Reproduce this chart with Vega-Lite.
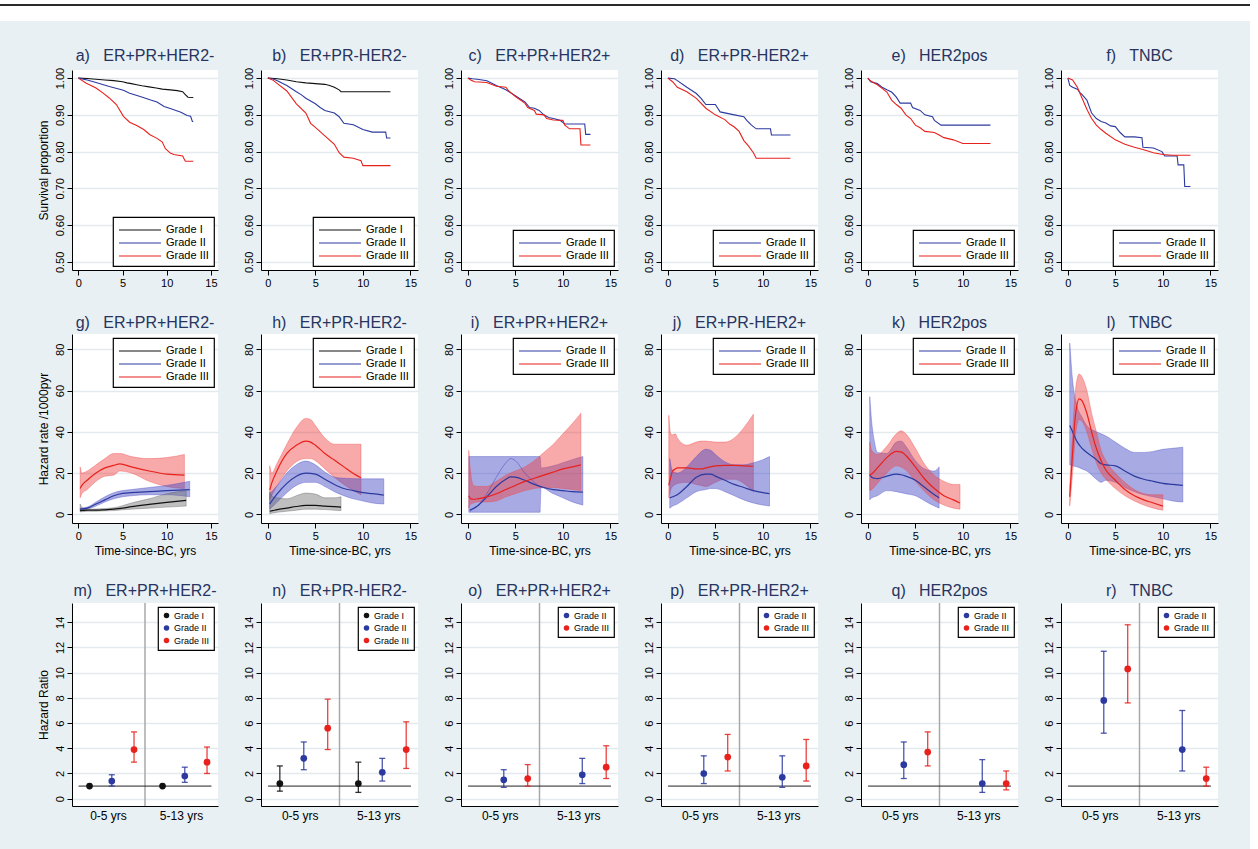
{
"$schema": "https://vega.github.io/schema/vega-lite/v6.json",
"background": "#e9f0f3",
"padding": 0,
"autosize": {"type": "pad"},
"config": {
  "font": "Liberation Sans",
  "view": {"fill": "white", "stroke": null},
  "axis": {"labelFont": "Liberation Sans", "titleFont": "Liberation Sans", "labelFontSize": 11, "titleFontSize": 12, "titleFontWeight": "normal", "tickSize": 5, "labelPadding": 2, "titlePadding": 4, "domainColor": "#000", "tickColor": "#000", "labelColor": "#000", "titleColor": "#000", "domainWidth": 1, "tickWidth": 1},
  "axisY": {"grid": true, "gridColor": "#e2eaee", "gridWidth": 1.5, "labelAngle": 270, "labelAlign": "center", "labelBaseline": "bottom"},
  "axisX": {"grid": false, "labelAngle": 0},
  "title": {"fontSize": 16, "font": "Liberation Sans", "fontWeight": "normal", "color": "#26345f", "offset": 3, "anchor": "middle"},
  "legend": {"strokeWidth": 1.2, "labelFont": "Liberation Sans", "labelColor": "#000"}
},
"datasets": {
"km": [
{"p":"a","g":"Grade I","t":0,"s":1},{"p":"a","g":"Grade I","t":1,"s":0.999},{"p":"a","g":"Grade I","t":2,"s":0.997},{"p":"a","g":"Grade I","t":3,"s":0.995},{"p":"a","g":"Grade I","t":4,"s":0.993},{"p":"a","g":"Grade I","t":5,"s":0.99},{"p":"a","g":"Grade I","t":5.5,"s":0.987},{"p":"a","g":"Grade I","t":6,"s":0.985},{"p":"a","g":"Grade I","t":6.6,"s":0.982},{"p":"a","g":"Grade I","t":7.2,"s":0.979},{"p":"a","g":"Grade I","t":8,"s":0.976},{"p":"a","g":"Grade I","t":8.8,"s":0.973},{"p":"a","g":"Grade I","t":9.5,"s":0.97},{"p":"a","g":"Grade I","t":10.4,"s":0.968},{"p":"a","g":"Grade I","t":11.2,"s":0.966},{"p":"a","g":"Grade I","t":11.8,"s":0.963},{"p":"a","g":"Grade I","t":12.1,"s":0.955},{"p":"a","g":"Grade I","t":12.4,"s":0.948},{"p":"a","g":"Grade I","t":13,"s":0.947},
{"p":"a","g":"Grade II","t":0,"s":1},{"p":"a","g":"Grade II","t":1,"s":0.995},{"p":"a","g":"Grade II","t":2,"s":0.988},{"p":"a","g":"Grade II","t":3.5,"s":0.977},{"p":"a","g":"Grade II","t":5.1,"s":0.967},{"p":"a","g":"Grade II","t":5.8,"s":0.959},{"p":"a","g":"Grade II","t":7,"s":0.95},{"p":"a","g":"Grade II","t":8.1,"s":0.941},{"p":"a","g":"Grade II","t":8.9,"s":0.935},{"p":"a","g":"Grade II","t":9.7,"s":0.923},{"p":"a","g":"Grade II","t":10.4,"s":0.917},{"p":"a","g":"Grade II","t":11.6,"s":0.907},{"p":"a","g":"Grade II","t":12.3,"s":0.898},{"p":"a","g":"Grade II","t":12.7,"s":0.896},{"p":"a","g":"Grade II","t":12.9,"s":0.882},{"p":"a","g":"Grade II","t":13,"s":0.882},
{"p":"a","g":"Grade III","t":0,"s":1},{"p":"a","g":"Grade III","t":0.9,"s":0.986},{"p":"a","g":"Grade III","t":2,"s":0.973},{"p":"a","g":"Grade III","t":2.8,"s":0.959},{"p":"a","g":"Grade III","t":3.5,"s":0.946},{"p":"a","g":"Grade III","t":4.3,"s":0.928},{"p":"a","g":"Grade III","t":5.1,"s":0.896},{"p":"a","g":"Grade III","t":5.8,"s":0.88},{"p":"a","g":"Grade III","t":6.6,"s":0.871},{"p":"a","g":"Grade III","t":7.4,"s":0.86},{"p":"a","g":"Grade III","t":8.1,"s":0.846},{"p":"a","g":"Grade III","t":8.9,"s":0.836},{"p":"a","g":"Grade III","t":9.5,"s":0.826},{"p":"a","g":"Grade III","t":9.85,"s":0.808},{"p":"a","g":"Grade III","t":10.4,"s":0.796},{"p":"a","g":"Grade III","t":10.8,"s":0.792},{"p":"a","g":"Grade III","t":11.8,"s":0.788},{"p":"a","g":"Grade III","t":12.1,"s":0.774},{"p":"a","g":"Grade III","t":13,"s":0.774},
{"p":"b","g":"Grade I","t":0,"s":1},{"p":"b","g":"Grade I","t":1,"s":0.998},{"p":"b","g":"Grade I","t":2,"s":0.995},{"p":"b","g":"Grade I","t":3,"s":0.99},{"p":"b","g":"Grade I","t":4,"s":0.987},{"p":"b","g":"Grade I","t":5,"s":0.985},{"p":"b","g":"Grade I","t":6,"s":0.983},{"p":"b","g":"Grade I","t":6.5,"s":0.98},{"p":"b","g":"Grade I","t":7,"s":0.975},{"p":"b","g":"Grade I","t":7.5,"s":0.968},{"p":"b","g":"Grade I","t":7.7,"s":0.963},{"p":"b","g":"Grade I","t":12.9,"s":0.963},
{"p":"b","g":"Grade II","t":0,"s":1},{"p":"b","g":"Grade II","t":0.5,"s":0.998},{"p":"b","g":"Grade II","t":1,"s":0.993},{"p":"b","g":"Grade II","t":2,"s":0.98},{"p":"b","g":"Grade II","t":3,"s":0.963},{"p":"b","g":"Grade II","t":3.5,"s":0.955},{"p":"b","g":"Grade II","t":4,"s":0.945},{"p":"b","g":"Grade II","t":5,"s":0.93},{"p":"b","g":"Grade II","t":5.5,"s":0.92},{"p":"b","g":"Grade II","t":6,"s":0.912},{"p":"b","g":"Grade II","t":7,"s":0.905},{"p":"b","g":"Grade II","t":7.5,"s":0.895},{"p":"b","g":"Grade II","t":8,"s":0.877},{"p":"b","g":"Grade II","t":9,"s":0.873},{"p":"b","g":"Grade II","t":10,"s":0.86},{"p":"b","g":"Grade II","t":11,"s":0.853},{"p":"b","g":"Grade II","t":12.4,"s":0.853},{"p":"b","g":"Grade II","t":12.5,"s":0.837},{"p":"b","g":"Grade II","t":12.9,"s":0.837},
{"p":"b","g":"Grade III","t":0,"s":1},{"p":"b","g":"Grade III","t":0.5,"s":0.995},{"p":"b","g":"Grade III","t":1,"s":0.985},{"p":"b","g":"Grade III","t":2,"s":0.965},{"p":"b","g":"Grade III","t":3,"s":0.93},{"p":"b","g":"Grade III","t":4,"s":0.905},{"p":"b","g":"Grade III","t":4.5,"s":0.877},{"p":"b","g":"Grade III","t":5,"s":0.866},{"p":"b","g":"Grade III","t":6,"s":0.843},{"p":"b","g":"Grade III","t":7,"s":0.82},{"p":"b","g":"Grade III","t":7.5,"s":0.797},{"p":"b","g":"Grade III","t":8,"s":0.785},{"p":"b","g":"Grade III","t":9,"s":0.782},{"p":"b","g":"Grade III","t":9.8,"s":0.775},{"p":"b","g":"Grade III","t":10,"s":0.762},{"p":"b","g":"Grade III","t":12.9,"s":0.762},
{"p":"c","g":"Grade II","t":0,"s":1},{"p":"c","g":"Grade II","t":0.5,"s":0.998},{"p":"c","g":"Grade II","t":1,"s":0.997},{"p":"c","g":"Grade II","t":2,"s":0.993},{"p":"c","g":"Grade II","t":3,"s":0.98},{"p":"c","g":"Grade II","t":4,"s":0.968},{"p":"c","g":"Grade II","t":5,"s":0.952},{"p":"c","g":"Grade II","t":6,"s":0.935},{"p":"c","g":"Grade II","t":6.5,"s":0.92},{"p":"c","g":"Grade II","t":7,"s":0.918},{"p":"c","g":"Grade II","t":7.5,"s":0.912},{"p":"c","g":"Grade II","t":8,"s":0.9},{"p":"c","g":"Grade II","t":8.5,"s":0.893},{"p":"c","g":"Grade II","t":9,"s":0.89},{"p":"c","g":"Grade II","t":9.7,"s":0.885},{"p":"c","g":"Grade II","t":10.2,"s":0.875},{"p":"c","g":"Grade II","t":12.3,"s":0.875},{"p":"c","g":"Grade II","t":12.4,"s":0.847},{"p":"c","g":"Grade II","t":12.9,"s":0.847},
{"p":"c","g":"Grade III","t":0,"s":1},{"p":"c","g":"Grade III","t":0.3,"s":0.995},{"p":"c","g":"Grade III","t":0.7,"s":0.99},{"p":"c","g":"Grade III","t":2,"s":0.988},{"p":"c","g":"Grade III","t":3,"s":0.978},{"p":"c","g":"Grade III","t":4,"s":0.975},{"p":"c","g":"Grade III","t":4.3,"s":0.965},{"p":"c","g":"Grade III","t":5,"s":0.95},{"p":"c","g":"Grade III","t":6,"s":0.932},{"p":"c","g":"Grade III","t":6.3,"s":0.92},{"p":"c","g":"Grade III","t":7,"s":0.912},{"p":"c","g":"Grade III","t":7.2,"s":0.902},{"p":"c","g":"Grade III","t":8,"s":0.9},{"p":"c","g":"Grade III","t":8.3,"s":0.89},{"p":"c","g":"Grade III","t":9,"s":0.886},{"p":"c","g":"Grade III","t":10,"s":0.885},{"p":"c","g":"Grade III","t":10.2,"s":0.872},{"p":"c","g":"Grade III","t":10.7,"s":0.862},{"p":"c","g":"Grade III","t":11.8,"s":0.862},{"p":"c","g":"Grade III","t":11.9,"s":0.818},{"p":"c","g":"Grade III","t":12.9,"s":0.818},
{"p":"d","g":"Grade II","t":0,"s":1},{"p":"d","g":"Grade II","t":0.7,"s":0.998},{"p":"d","g":"Grade II","t":1,"s":0.993},{"p":"d","g":"Grade II","t":2,"s":0.975},{"p":"d","g":"Grade II","t":3,"s":0.958},{"p":"d","g":"Grade II","t":3.5,"s":0.945},{"p":"d","g":"Grade II","t":4,"s":0.928},{"p":"d","g":"Grade II","t":5,"s":0.928},{"p":"d","g":"Grade II","t":5.2,"s":0.92},{"p":"d","g":"Grade II","t":5.5,"s":0.908},{"p":"d","g":"Grade II","t":7,"s":0.9},{"p":"d","g":"Grade II","t":8,"s":0.895},{"p":"d","g":"Grade II","t":8.3,"s":0.885},{"p":"d","g":"Grade II","t":8.8,"s":0.872},{"p":"d","g":"Grade II","t":9.3,"s":0.862},{"p":"d","g":"Grade II","t":10.8,"s":0.862},{"p":"d","g":"Grade II","t":10.9,"s":0.845},{"p":"d","g":"Grade II","t":12.9,"s":0.845},
{"p":"d","g":"Grade III","t":0,"s":1},{"p":"d","g":"Grade III","t":0.5,"s":0.99},{"p":"d","g":"Grade III","t":1,"s":0.975},{"p":"d","g":"Grade III","t":2,"s":0.963},{"p":"d","g":"Grade III","t":3,"s":0.945},{"p":"d","g":"Grade III","t":4,"s":0.918},{"p":"d","g":"Grade III","t":5,"s":0.9},{"p":"d","g":"Grade III","t":6,"s":0.887},{"p":"d","g":"Grade III","t":6.5,"s":0.875},{"p":"d","g":"Grade III","t":7,"s":0.867},{"p":"d","g":"Grade III","t":7.5,"s":0.855},{"p":"d","g":"Grade III","t":8,"s":0.83},{"p":"d","g":"Grade III","t":8.5,"s":0.815},{"p":"d","g":"Grade III","t":9,"s":0.797},{"p":"d","g":"Grade III","t":9.3,"s":0.782},{"p":"d","g":"Grade III","t":12.9,"s":0.782},
{"p":"e","g":"Grade II","t":0,"s":1},{"p":"e","g":"Grade II","t":0.3,"s":0.99},{"p":"e","g":"Grade II","t":1,"s":0.985},{"p":"e","g":"Grade II","t":1.5,"s":0.975},{"p":"e","g":"Grade II","t":2,"s":0.968},{"p":"e","g":"Grade II","t":2.5,"s":0.962},{"p":"e","g":"Grade II","t":3,"s":0.948},{"p":"e","g":"Grade II","t":3.4,"s":0.932},{"p":"e","g":"Grade II","t":4.5,"s":0.932},{"p":"e","g":"Grade II","t":4.7,"s":0.92},{"p":"e","g":"Grade II","t":5.5,"s":0.912},{"p":"e","g":"Grade II","t":6,"s":0.9},{"p":"e","g":"Grade II","t":6.8,"s":0.895},{"p":"e","g":"Grade II","t":7,"s":0.885},{"p":"e","g":"Grade II","t":7.7,"s":0.872},{"p":"e","g":"Grade II","t":12.9,"s":0.872},
{"p":"e","g":"Grade III","t":0,"s":1},{"p":"e","g":"Grade III","t":0.3,"s":0.992},{"p":"e","g":"Grade III","t":1,"s":0.982},{"p":"e","g":"Grade III","t":1.5,"s":0.972},{"p":"e","g":"Grade III","t":2,"s":0.962},{"p":"e","g":"Grade III","t":2.5,"s":0.94},{"p":"e","g":"Grade III","t":3,"s":0.928},{"p":"e","g":"Grade III","t":3.5,"s":0.918},{"p":"e","g":"Grade III","t":4,"s":0.9},{"p":"e","g":"Grade III","t":4.5,"s":0.89},{"p":"e","g":"Grade III","t":5,"s":0.872},{"p":"e","g":"Grade III","t":5.5,"s":0.865},{"p":"e","g":"Grade III","t":6,"s":0.855},{"p":"e","g":"Grade III","t":7,"s":0.852},{"p":"e","g":"Grade III","t":7.5,"s":0.845},{"p":"e","g":"Grade III","t":8,"s":0.838},{"p":"e","g":"Grade III","t":9,"s":0.832},{"p":"e","g":"Grade III","t":10,"s":0.822},{"p":"e","g":"Grade III","t":12.9,"s":0.822},
{"p":"f","g":"Grade II","t":0,"s":1},{"p":"f","g":"Grade II","t":0.2,"s":0.98},{"p":"f","g":"Grade II","t":0.5,"s":0.975},{"p":"f","g":"Grade II","t":1,"s":0.97},{"p":"f","g":"Grade II","t":1.3,"s":0.96},{"p":"f","g":"Grade II","t":1.5,"s":0.955},{"p":"f","g":"Grade II","t":2,"s":0.94},{"p":"f","g":"Grade II","t":2.5,"s":0.905},{"p":"f","g":"Grade II","t":3,"s":0.89},{"p":"f","g":"Grade II","t":3.5,"s":0.882},{"p":"f","g":"Grade II","t":4,"s":0.878},{"p":"f","g":"Grade II","t":4.5,"s":0.87},{"p":"f","g":"Grade II","t":5,"s":0.868},{"p":"f","g":"Grade II","t":5.5,"s":0.852},{"p":"f","g":"Grade II","t":6,"s":0.84},{"p":"f","g":"Grade II","t":7,"s":0.84},{"p":"f","g":"Grade II","t":7.8,"s":0.838},{"p":"f","g":"Grade II","t":7.9,"s":0.812},{"p":"f","g":"Grade II","t":9,"s":0.81},{"p":"f","g":"Grade II","t":9.9,"s":0.8},{"p":"f","g":"Grade II","t":10.2,"s":0.788},{"p":"f","g":"Grade II","t":11.5,"s":0.788},{"p":"f","g":"Grade II","t":11.6,"s":0.764},{"p":"f","g":"Grade II","t":12.2,"s":0.764},{"p":"f","g":"Grade II","t":12.3,"s":0.705},{"p":"f","g":"Grade II","t":12.9,"s":0.705},
{"p":"f","g":"Grade III","t":0,"s":1},{"p":"f","g":"Grade III","t":0.5,"s":0.995},{"p":"f","g":"Grade III","t":1,"s":0.975},{"p":"f","g":"Grade III","t":1.5,"s":0.945},{"p":"f","g":"Grade III","t":2,"s":0.915},{"p":"f","g":"Grade III","t":2.5,"s":0.89},{"p":"f","g":"Grade III","t":3,"s":0.872},{"p":"f","g":"Grade III","t":3.5,"s":0.86},{"p":"f","g":"Grade III","t":4,"s":0.85},{"p":"f","g":"Grade III","t":5,"s":0.832},{"p":"f","g":"Grade III","t":6,"s":0.82},{"p":"f","g":"Grade III","t":7,"s":0.812},{"p":"f","g":"Grade III","t":8,"s":0.805},{"p":"f","g":"Grade III","t":9,"s":0.797},{"p":"f","g":"Grade III","t":10,"s":0.792},{"p":"f","g":"Grade III","t":11,"s":0.79},{"p":"f","g":"Grade III","t":12.9,"s":0.79}
],
"hz": [
{"p":"g","g":"Grade III","t":0.2,"h":12.5,"lo":8,"hi":23},{"p":"g","g":"Grade III","t":0.4,"h":14,"lo":10,"hi":20},{"p":"g","g":"Grade III","t":1,"h":16.5,"lo":12,"hi":21},{"p":"g","g":"Grade III","t":2,"h":20,"lo":16,"hi":24},{"p":"g","g":"Grade III","t":3,"h":22.5,"lo":18.5,"hi":27},{"p":"g","g":"Grade III","t":4,"h":23.7,"lo":19,"hi":29.5},{"p":"g","g":"Grade III","t":4.7,"h":24.5,"lo":21,"hi":29.5},{"p":"g","g":"Grade III","t":6,"h":23,"lo":20,"hi":28},{"p":"g","g":"Grade III","t":8,"h":21,"lo":16,"hi":27},{"p":"g","g":"Grade III","t":10,"h":19.5,"lo":13.5,"hi":27.5},{"p":"g","g":"Grade III","t":12,"h":19,"lo":12.5,"hi":29},
{"p":"g","g":"Grade II","t":0.2,"h":2.5,"lo":2,"hi":3},{"p":"g","g":"Grade II","t":1,"h":3,"lo":2.5,"hi":3.5},{"p":"g","g":"Grade II","t":2,"h":5,"lo":4,"hi":6},{"p":"g","g":"Grade II","t":3,"h":7,"lo":6,"hi":8.5},{"p":"g","g":"Grade II","t":4,"h":9,"lo":7.5,"hi":10.5},{"p":"g","g":"Grade II","t":5,"h":10.2,"lo":8.5,"hi":11.5},{"p":"g","g":"Grade II","t":6,"h":10.5,"lo":9,"hi":12},{"p":"g","g":"Grade II","t":8,"h":11,"lo":9.5,"hi":13},{"p":"g","g":"Grade II","t":10,"h":11.5,"lo":9.5,"hi":14},{"p":"g","g":"Grade II","t":12.6,"h":12,"lo":8.5,"hi":16},
{"p":"g","g":"Grade I","t":0.2,"h":1.8,"lo":1.2,"hi":5},{"p":"g","g":"Grade I","t":0.5,"h":1.9,"lo":1.3,"hi":3},{"p":"g","g":"Grade I","t":1,"h":2,"lo":1.5,"hi":2.5},{"p":"g","g":"Grade I","t":2,"h":2,"lo":1.5,"hi":2.6},{"p":"g","g":"Grade I","t":3,"h":2.2,"lo":1.7,"hi":2.8},{"p":"g","g":"Grade I","t":4,"h":2.5,"lo":1.8,"hi":3.2},{"p":"g","g":"Grade I","t":5,"h":3,"lo":2.2,"hi":4.2},{"p":"g","g":"Grade I","t":6,"h":3.7,"lo":2.5,"hi":5.5},{"p":"g","g":"Grade I","t":8,"h":4.8,"lo":3,"hi":7.5},{"p":"g","g":"Grade I","t":10,"h":5.8,"lo":3.5,"hi":10},{"p":"g","g":"Grade I","t":12.2,"h":6.8,"lo":4,"hi":11.5},
{"p":"h","g":"Grade III","t":0.2,"h":11.8,"lo":7,"hi":23.5},{"p":"h","g":"Grade III","t":0.4,"h":15,"lo":9,"hi":20},{"p":"h","g":"Grade III","t":1,"h":21.5,"lo":14,"hi":25},{"p":"h","g":"Grade III","t":2,"h":29.5,"lo":21,"hi":34},{"p":"h","g":"Grade III","t":3,"h":33.5,"lo":25.5,"hi":42},{"p":"h","g":"Grade III","t":4,"h":35.5,"lo":27,"hi":46.5},{"p":"h","g":"Grade III","t":4.5,"h":35,"lo":27,"hi":46},{"p":"h","g":"Grade III","t":5,"h":33.5,"lo":26,"hi":43},{"p":"h","g":"Grade III","t":6,"h":29.5,"lo":22,"hi":37},{"p":"h","g":"Grade III","t":7,"h":26.3,"lo":18,"hi":34},{"p":"h","g":"Grade III","t":8,"h":23,"lo":14.5,"hi":34},{"p":"h","g":"Grade III","t":9,"h":19.8,"lo":11.5,"hi":34},{"p":"h","g":"Grade III","t":9.8,"h":17.7,"lo":9.5,"hi":34},
{"p":"h","g":"Grade II","t":0.2,"h":5,"lo":2.5,"hi":10},{"p":"h","g":"Grade II","t":1,"h":10,"lo":6,"hi":14},{"p":"h","g":"Grade II","t":2,"h":15,"lo":10.5,"hi":20},{"p":"h","g":"Grade II","t":3,"h":18.5,"lo":14,"hi":24},{"p":"h","g":"Grade II","t":4,"h":20,"lo":15.5,"hi":25.8},{"p":"h","g":"Grade II","t":5,"h":19.5,"lo":15.5,"hi":24},{"p":"h","g":"Grade II","t":6,"h":17,"lo":13.5,"hi":20.5},{"p":"h","g":"Grade II","t":7,"h":14.5,"lo":11,"hi":18},{"p":"h","g":"Grade II","t":8,"h":12.5,"lo":9,"hi":17.5},{"p":"h","g":"Grade II","t":9,"h":11.5,"lo":7.5,"hi":17.3},{"p":"h","g":"Grade II","t":10,"h":10.5,"lo":6.5,"hi":17.2},{"p":"h","g":"Grade II","t":11,"h":10,"lo":5.5,"hi":17.2},{"p":"h","g":"Grade II","t":12.2,"h":9.3,"lo":5,"hi":17.2},
{"p":"h","g":"Grade I","t":0.2,"h":1.5,"lo":0.3,"hi":11},{"p":"h","g":"Grade I","t":0.5,"h":1.8,"lo":0.6,"hi":8.5},{"p":"h","g":"Grade I","t":1,"h":2.3,"lo":1,"hi":8},{"p":"h","g":"Grade I","t":2,"h":3,"lo":1.5,"hi":7.5},{"p":"h","g":"Grade I","t":3,"h":3.8,"lo":2,"hi":9},{"p":"h","g":"Grade I","t":4,"h":4.3,"lo":2.5,"hi":10.3},{"p":"h","g":"Grade I","t":5,"h":4.3,"lo":2.5,"hi":9.8},{"p":"h","g":"Grade I","t":6,"h":4,"lo":2.3,"hi":8},{"p":"h","g":"Grade I","t":7,"h":3.7,"lo":2,"hi":8},{"p":"h","g":"Grade I","t":7.7,"h":3.5,"lo":1.8,"hi":8.5},
{"p":"i","g":"Grade II","t":0.1,"lo":1,"hi":28},{"p":"i","g":"Grade II","t":7.6,"lo":1,"hi":28},{"p":"i","g":"Grade II","t":7.7,"lo":13,"hi":22.5},{"p":"i","g":"Grade II","t":9,"lo":10,"hi":23.5},{"p":"i","g":"Grade II","t":10,"lo":8,"hi":25},{"p":"i","g":"Grade II","t":11,"lo":6,"hi":26.5},{"p":"i","g":"Grade II","t":12.1,"lo":4.5,"hi":28},
{"p":"i","g":"Grade II","t":0.2,"u":1.5},{"p":"i","g":"Grade II","t":1,"u":4},{"p":"i","g":"Grade II","t":2,"u":10},{"p":"i","g":"Grade II","t":3,"u":18},{"p":"i","g":"Grade II","t":4,"u":25},{"p":"i","g":"Grade II","t":4.5,"u":27},{"p":"i","g":"Grade II","t":5,"u":26},{"p":"i","g":"Grade II","t":6,"u":20},{"p":"i","g":"Grade II","t":7,"u":15.5},{"p":"i","g":"Grade II","t":7.7,"u":13},
{"p":"i","g":"Grade II","t":0.2,"h":2},{"p":"i","g":"Grade II","t":1,"h":4},{"p":"i","g":"Grade II","t":2,"h":8.5},{"p":"i","g":"Grade II","t":3,"h":13.5},{"p":"i","g":"Grade II","t":4,"h":17},{"p":"i","g":"Grade II","t":4.5,"h":18.2},{"p":"i","g":"Grade II","t":5,"h":18},{"p":"i","g":"Grade II","t":6,"h":16.5},{"p":"i","g":"Grade II","t":7,"h":14.5},{"p":"i","g":"Grade II","t":8,"h":13},{"p":"i","g":"Grade II","t":9,"h":12},{"p":"i","g":"Grade II","t":10,"h":11.5},{"p":"i","g":"Grade II","t":11,"h":11},{"p":"i","g":"Grade II","t":12.1,"h":10.8},
{"p":"i","g":"Grade III","t":0.1,"h":9,"lo":3,"hi":31},{"p":"i","g":"Grade III","t":0.3,"h":7.5,"lo":5,"hi":20},{"p":"i","g":"Grade III","t":0.6,"h":7.3,"lo":5.5,"hi":14},{"p":"i","g":"Grade III","t":1,"h":7.5,"lo":6,"hi":13.5},{"p":"i","g":"Grade III","t":2,"h":8.5,"lo":6,"hi":13.5},{"p":"i","g":"Grade III","t":3,"h":10,"lo":6.5,"hi":16},{"p":"i","g":"Grade III","t":4,"h":12,"lo":8.5,"hi":19},{"p":"i","g":"Grade III","t":5,"h":14,"lo":10,"hi":21},{"p":"i","g":"Grade III","t":6,"h":16,"lo":11.5,"hi":23},{"p":"i","g":"Grade III","t":7,"h":17.5,"lo":12.5,"hi":26},{"p":"i","g":"Grade III","t":8,"h":19,"lo":13,"hi":30},{"p":"i","g":"Grade III","t":9,"h":20.5,"lo":13,"hi":34},{"p":"i","g":"Grade III","t":10,"h":22,"lo":12.5,"hi":39},{"p":"i","g":"Grade III","t":11,"h":23,"lo":12,"hi":44},{"p":"i","g":"Grade III","t":11.9,"h":24,"lo":11.5,"hi":49},
{"p":"j","g":"Grade III","t":0.1,"h":14,"lo":8,"hi":48},{"p":"j","g":"Grade III","t":0.3,"h":18,"lo":12,"hi":39},{"p":"j","g":"Grade III","t":0.5,"h":21,"lo":13.5,"hi":38.5},{"p":"j","g":"Grade III","t":0.8,"h":22,"lo":14.5,"hi":39},{"p":"j","g":"Grade III","t":1,"h":22.5,"lo":15,"hi":37},{"p":"j","g":"Grade III","t":2,"h":22.5,"lo":15.5,"hi":33.5},{"p":"j","g":"Grade III","t":3,"h":22,"lo":14.5,"hi":35},{"p":"j","g":"Grade III","t":3.5,"h":22,"lo":14,"hi":35.5},{"p":"j","g":"Grade III","t":4,"h":22.5,"lo":13.5,"hi":35.5},{"p":"j","g":"Grade III","t":5,"h":23.5,"lo":15.5,"hi":35},{"p":"j","g":"Grade III","t":6,"h":23.7,"lo":17,"hi":35},{"p":"j","g":"Grade III","t":7,"h":23.7,"lo":17,"hi":37},{"p":"j","g":"Grade III","t":8,"h":23.5,"lo":15,"hi":42},{"p":"j","g":"Grade III","t":9,"h":23.3,"lo":11,"hi":48.5},
{"p":"j","g":"Grade II","t":0.2,"h":8,"lo":3,"hi":27},{"p":"j","g":"Grade II","t":0.5,"h":8.5,"lo":4,"hi":21},{"p":"j","g":"Grade II","t":1,"h":9.5,"lo":5,"hi":20},{"p":"j","g":"Grade II","t":2,"h":13.5,"lo":8,"hi":23},{"p":"j","g":"Grade II","t":3,"h":18,"lo":11,"hi":28},{"p":"j","g":"Grade II","t":4,"h":19.5,"lo":12,"hi":31.5},{"p":"j","g":"Grade II","t":4.5,"h":19.5,"lo":12.5,"hi":31},{"p":"j","g":"Grade II","t":5,"h":18.5,"lo":12.5,"hi":29},{"p":"j","g":"Grade II","t":6,"h":16.5,"lo":11,"hi":25.5},{"p":"j","g":"Grade II","t":7,"h":14.5,"lo":9,"hi":24},{"p":"j","g":"Grade II","t":8,"h":13,"lo":7,"hi":24},{"p":"j","g":"Grade II","t":9,"h":11.5,"lo":5.5,"hi":25},{"p":"j","g":"Grade II","t":10,"h":10.5,"lo":4.5,"hi":26.5},{"p":"j","g":"Grade II","t":10.7,"h":10,"lo":4,"hi":28},
{"p":"k","g":"Grade II","t":0.2,"h":19,"lo":7,"hi":57},{"p":"k","g":"Grade II","t":0.4,"h":18,"lo":8,"hi":45},{"p":"k","g":"Grade II","t":0.7,"h":17.5,"lo":8.5,"hi":35},{"p":"k","g":"Grade II","t":1,"h":17.3,"lo":9,"hi":30},{"p":"k","g":"Grade II","t":2,"h":18.5,"lo":11.5,"hi":29.5},{"p":"k","g":"Grade II","t":3,"h":19.5,"lo":11,"hi":35},{"p":"k","g":"Grade II","t":3.5,"h":19.2,"lo":10.5,"hi":35.5},{"p":"k","g":"Grade II","t":4,"h":18.5,"lo":10,"hi":33},{"p":"k","g":"Grade II","t":5,"h":16.5,"lo":9,"hi":26},{"p":"k","g":"Grade II","t":6,"h":13,"lo":6.5,"hi":22},{"p":"k","g":"Grade II","t":7,"h":9.5,"lo":4,"hi":21},{"p":"k","g":"Grade II","t":7.5,"h":8,"lo":3,"hi":23},
{"p":"k","g":"Grade III","t":0.2,"h":19,"lo":11.5,"hi":35},{"p":"k","g":"Grade III","t":0.4,"h":19.5,"lo":12,"hi":31},{"p":"k","g":"Grade III","t":1,"h":22.5,"lo":15,"hi":29},{"p":"k","g":"Grade III","t":2,"h":27.5,"lo":20,"hi":33},{"p":"k","g":"Grade III","t":3,"h":30.5,"lo":23.5,"hi":39},{"p":"k","g":"Grade III","t":3.5,"h":30.3,"lo":23,"hi":40.5},{"p":"k","g":"Grade III","t":4,"h":28.5,"lo":21.5,"hi":39},{"p":"k","g":"Grade III","t":5,"h":23,"lo":16,"hi":32},{"p":"k","g":"Grade III","t":6,"h":17,"lo":11,"hi":24},{"p":"k","g":"Grade III","t":7,"h":12.5,"lo":7,"hi":19},{"p":"k","g":"Grade III","t":8,"h":9,"lo":4.5,"hi":16},{"p":"k","g":"Grade III","t":9,"h":7,"lo":3,"hi":14.5},{"p":"k","g":"Grade III","t":9.7,"h":5.5,"lo":2.5,"hi":14.5},
{"p":"l","g":"Grade II","t":0.2,"h":43,"lo":24,"hi":83},{"p":"l","g":"Grade II","t":0.5,"h":40,"lo":23.5,"hi":65},{"p":"l","g":"Grade II","t":1,"h":35,"lo":23,"hi":52},{"p":"l","g":"Grade II","t":1.5,"h":32,"lo":22,"hi":47},{"p":"l","g":"Grade II","t":2,"h":30,"lo":21,"hi":43},{"p":"l","g":"Grade II","t":3,"h":26.5,"lo":17,"hi":40},{"p":"l","g":"Grade II","t":3.5,"h":24.5,"lo":15.5,"hi":39},{"p":"l","g":"Grade II","t":4,"h":24,"lo":16.5,"hi":38},{"p":"l","g":"Grade II","t":5,"h":23.5,"lo":15.5,"hi":35},{"p":"l","g":"Grade II","t":6,"h":21,"lo":13,"hi":32},{"p":"l","g":"Grade II","t":7,"h":18.5,"lo":11,"hi":30},{"p":"l","g":"Grade II","t":8,"h":17,"lo":9.5,"hi":30},{"p":"l","g":"Grade II","t":9,"h":16,"lo":8.5,"hi":30.5},{"p":"l","g":"Grade II","t":10,"h":15,"lo":7.5,"hi":31.5},{"p":"l","g":"Grade II","t":11,"h":14.5,"lo":6.5,"hi":32},{"p":"l","g":"Grade II","t":12.1,"h":14,"lo":6,"hi":32.5},
{"p":"l","g":"Grade III","t":0.2,"h":8.5,"lo":4,"hi":14},{"p":"l","g":"Grade III","t":0.5,"h":30,"lo":20,"hi":40},{"p":"l","g":"Grade III","t":0.8,"h":48,"lo":38,"hi":60},{"p":"l","g":"Grade III","t":1.2,"h":56,"lo":46,"hi":68},{"p":"l","g":"Grade III","t":1.5,"h":55,"lo":45,"hi":66.5},{"p":"l","g":"Grade III","t":2,"h":49,"lo":40,"hi":60},{"p":"l","g":"Grade III","t":2.5,"h":40,"lo":32,"hi":49},{"p":"l","g":"Grade III","t":3,"h":32,"lo":25,"hi":40},{"p":"l","g":"Grade III","t":3.5,"h":26,"lo":20,"hi":31},{"p":"l","g":"Grade III","t":4,"h":21.5,"lo":17,"hi":26},{"p":"l","g":"Grade III","t":5,"h":16.5,"lo":12.5,"hi":20},{"p":"l","g":"Grade III","t":6,"h":12,"lo":9,"hi":15.5},{"p":"l","g":"Grade III","t":7,"h":9,"lo":6.5,"hi":12},{"p":"l","g":"Grade III","t":8,"h":7,"lo":4.5,"hi":10},{"p":"l","g":"Grade III","t":9,"h":5.5,"lo":3,"hi":9.5},{"p":"l","g":"Grade III","t":10,"h":4,"lo":2,"hi":9.5}
],
"hr": [
{"p":"m","g":"Grade I","per":"0-5 yrs","est":1},{"p":"m","g":"Grade II","per":"0-5 yrs","est":1.4,"lo":1.0,"hi":1.9},{"p":"m","g":"Grade III","per":"0-5 yrs","est":3.9,"lo":2.9,"hi":5.3},
{"p":"m","g":"Grade I","per":"5-13 yrs","est":1},{"p":"m","g":"Grade II","per":"5-13 yrs","est":1.8,"lo":1.3,"hi":2.5},{"p":"m","g":"Grade III","per":"5-13 yrs","est":2.9,"lo":2.0,"hi":4.1},
{"p":"n","g":"Grade I","per":"0-5 yrs","est":1.2,"lo":0.6,"hi":2.6},{"p":"n","g":"Grade II","per":"0-5 yrs","est":3.2,"lo":2.3,"hi":4.5},{"p":"n","g":"Grade III","per":"0-5 yrs","est":5.6,"lo":3.9,"hi":7.9},
{"p":"n","g":"Grade I","per":"5-13 yrs","est":1.2,"lo":0.5,"hi":2.9},{"p":"n","g":"Grade II","per":"5-13 yrs","est":2.1,"lo":1.4,"hi":3.2},{"p":"n","g":"Grade III","per":"5-13 yrs","est":3.9,"lo":2.4,"hi":6.1},
{"p":"o","g":"Grade II","per":"0-5 yrs","est":1.5,"lo":0.9,"hi":2.3},{"p":"o","g":"Grade III","per":"0-5 yrs","est":1.6,"lo":1.0,"hi":2.7},
{"p":"o","g":"Grade II","per":"5-13 yrs","est":1.9,"lo":1.2,"hi":3.2},{"p":"o","g":"Grade III","per":"5-13 yrs","est":2.5,"lo":1.6,"hi":4.2},
{"p":"p","g":"Grade II","per":"0-5 yrs","est":2.0,"lo":1.2,"hi":3.4},{"p":"p","g":"Grade III","per":"0-5 yrs","est":3.3,"lo":2.2,"hi":5.1},
{"p":"p","g":"Grade II","per":"5-13 yrs","est":1.7,"lo":0.9,"hi":3.4},{"p":"p","g":"Grade III","per":"5-13 yrs","est":2.6,"lo":1.4,"hi":4.7},
{"p":"q","g":"Grade II","per":"0-5 yrs","est":2.7,"lo":1.6,"hi":4.5},{"p":"q","g":"Grade III","per":"0-5 yrs","est":3.7,"lo":2.6,"hi":5.3},
{"p":"q","g":"Grade II","per":"5-13 yrs","est":1.2,"lo":0.5,"hi":3.1},{"p":"q","g":"Grade III","per":"5-13 yrs","est":1.2,"lo":0.7,"hi":2.2},
{"p":"r","g":"Grade II","per":"0-5 yrs","est":7.8,"lo":5.2,"hi":11.7},{"p":"r","g":"Grade III","per":"0-5 yrs","est":10.3,"lo":7.6,"hi":13.8},
{"p":"r","g":"Grade II","per":"5-13 yrs","est":3.9,"lo":2.2,"hi":7.0},{"p":"r","g":"Grade III","per":"5-13 yrs","est":1.6,"lo":1.0,"hi":2.5}
]
},
"spacing": 0,
"resolve": {"scale": {"x": "independent", "y": "independent", "color": "independent", "fill": "independent", "stroke": "independent"}, "legend": {"color": "independent"}},
"vconcat": [
{"width": 1250, "height": 4, "view": {"fill": "white", "stroke": null}, "data": {"values": []}, "mark": "point", "encoding": {}},
{"width": 1250, "height": 2, "view": {"fill": "#2a2a2a", "stroke": null}, "data": {"values": []}, "mark": "point", "encoding": {}},
{"width": 1250, "height": 15, "view": {"fill": "white", "stroke": null}, "data": {"values": []}, "mark": "point", "encoding": {}},
{"width": 10, "height": 27, "view": {"fill": null, "stroke": null}, "data": {"values": []}, "mark": "point", "encoding": {}},
{"spacing": 27,
 "resolve": {"scale": {"x": "independent", "y": "independent", "color": "independent", "fill": "independent", "stroke": "independent"}, "legend": {"color": "independent"}},
 "vconcat": [
 {"spacing": 25,
  "resolve": {"scale": {"x": "independent", "y": "independent", "color": "independent"}, "legend": {"color": "independent"}},
  "hconcat": [
   {"width": 12, "height": 1, "view": {"fill": null, "stroke": null}, "data": {"values": []}, "mark": "point", "encoding": {}},
   {"width": 146, "height": 200, "title": {"text": "a)\u00a0\u00a0 ER+PR+HER2-", "frame": "group"}, "data": {"name": "km"}, "transform": [{"filter": "datum.p == 'a'"}], "mark": {"type": "line", "strokeWidth": 1.1},
    "encoding": {"x": {"field": "t", "type": "quantitative", "scale": {"domain": [-0.72, 15.8], "nice": false, "zero": false}, "axis": {"values": [0,5,10,15], "title": null}},
     "y": {"field": "s", "type": "quantitative", "scale": {"domain": [0.478, 1.022], "nice": false, "zero": false}, "axis": {"values": [0.5,0.6,0.7,0.8,0.9,1.0], "format": ".2f", "title": "Survival proportion"}},
     "color": {"field": "g", "type": "nominal", "scale": {"domain": ["Grade I","Grade II","Grade III"], "range": ["#111111","#2c3a9f","#e8211c"]}, "legend": {"orient": "bottom-right", "offset": 4, "title": null, "symbolType": "M-1,0L5,0", "symbolSize": 196, "symbolStrokeWidth": 1.2, "labelOffset": 32, "labelFontSize": 11, "rowPadding": 0, "padding": 5, "strokeColor": "#000", "fillColor": "#fff"}}}},
   {"width": 157, "height": 200, "title": {"text": "b)\u00a0\u00a0 ER+PR-HER2-"}, "data": {"name": "km"}, "transform": [{"filter": "datum.p == 'b'"}], "mark": {"type": "line", "strokeWidth": 1.1},
    "encoding": {"x": {"field": "t", "type": "quantitative", "scale": {"domain": [-0.72, 15.8], "nice": false, "zero": false}, "axis": {"values": [0,5,10,15], "title": null}},
     "y": {"field": "s", "type": "quantitative", "scale": {"domain": [0.478, 1.022], "nice": false, "zero": false}, "axis": {"values": [0.5,0.6,0.7,0.8,0.9,1.0], "format": ".2f", "title": null}},
     "color": {"field": "g", "type": "nominal", "scale": {"domain": ["Grade I","Grade II","Grade III"], "range": ["#111111","#2c3a9f","#e8211c"]}, "legend": {"orient": "bottom-right", "offset": 4, "title": null, "symbolType": "M-1,0L5,0", "symbolSize": 196, "symbolStrokeWidth": 1.2, "labelOffset": 32, "labelFontSize": 11, "rowPadding": 0, "padding": 5, "strokeColor": "#000", "fillColor": "#fff"}}}},
   {"width": 157, "height": 200, "title": {"text": "c)\u00a0\u00a0 ER+PR+HER2+"}, "data": {"name": "km"}, "transform": [{"filter": "datum.p == 'c'"}], "mark": {"type": "line", "strokeWidth": 1.1},
    "encoding": {"x": {"field": "t", "type": "quantitative", "scale": {"domain": [-0.72, 15.8], "nice": false, "zero": false}, "axis": {"values": [0,5,10,15], "title": null}},
     "y": {"field": "s", "type": "quantitative", "scale": {"domain": [0.478, 1.022], "nice": false, "zero": false}, "axis": {"values": [0.5,0.6,0.7,0.8,0.9,1.0], "format": ".2f", "title": null}},
     "color": {"field": "g", "type": "nominal", "scale": {"domain": ["Grade II","Grade III"], "range": ["#2c3a9f","#e8211c"]}, "legend": {"orient": "bottom-right", "offset": 4, "title": null, "symbolType": "M-1,0L5,0", "symbolSize": 196, "symbolStrokeWidth": 1.2, "labelOffset": 32, "labelFontSize": 11, "rowPadding": 0, "padding": 5, "strokeColor": "#000", "fillColor": "#fff"}}}},
   {"width": 157, "height": 200, "title": {"text": "d)\u00a0\u00a0 ER+PR-HER2+"}, "data": {"name": "km"}, "transform": [{"filter": "datum.p == 'd'"}], "mark": {"type": "line", "strokeWidth": 1.1},
    "encoding": {"x": {"field": "t", "type": "quantitative", "scale": {"domain": [-0.72, 15.8], "nice": false, "zero": false}, "axis": {"values": [0,5,10,15], "title": null}},
     "y": {"field": "s", "type": "quantitative", "scale": {"domain": [0.478, 1.022], "nice": false, "zero": false}, "axis": {"values": [0.5,0.6,0.7,0.8,0.9,1.0], "format": ".2f", "title": null}},
     "color": {"field": "g", "type": "nominal", "scale": {"domain": ["Grade II","Grade III"], "range": ["#2c3a9f","#e8211c"]}, "legend": {"orient": "bottom-right", "offset": 4, "title": null, "symbolType": "M-1,0L5,0", "symbolSize": 196, "symbolStrokeWidth": 1.2, "labelOffset": 32, "labelFontSize": 11, "rowPadding": 0, "padding": 5, "strokeColor": "#000", "fillColor": "#fff"}}}},
   {"width": 157, "height": 200, "title": {"text": "e)\u00a0\u00a0 HER2pos"}, "data": {"name": "km"}, "transform": [{"filter": "datum.p == 'e'"}], "mark": {"type": "line", "strokeWidth": 1.1},
    "encoding": {"x": {"field": "t", "type": "quantitative", "scale": {"domain": [-0.72, 15.8], "nice": false, "zero": false}, "axis": {"values": [0,5,10,15], "title": null}},
     "y": {"field": "s", "type": "quantitative", "scale": {"domain": [0.478, 1.022], "nice": false, "zero": false}, "axis": {"values": [0.5,0.6,0.7,0.8,0.9,1.0], "format": ".2f", "title": null}},
     "color": {"field": "g", "type": "nominal", "scale": {"domain": ["Grade II","Grade III"], "range": ["#2c3a9f","#e8211c"]}, "legend": {"orient": "bottom-right", "offset": 4, "title": null, "symbolType": "M-1,0L5,0", "symbolSize": 196, "symbolStrokeWidth": 1.2, "labelOffset": 32, "labelFontSize": 11, "rowPadding": 0, "padding": 5, "strokeColor": "#000", "fillColor": "#fff"}}}},
   {"width": 157, "height": 200, "title": {"text": "f)\u00a0\u00a0 TNBC"}, "data": {"name": "km"}, "transform": [{"filter": "datum.p == 'f'"}], "mark": {"type": "line", "strokeWidth": 1.1},
    "encoding": {"x": {"field": "t", "type": "quantitative", "scale": {"domain": [-0.72, 15.8], "nice": false, "zero": false}, "axis": {"values": [0,5,10,15], "title": null}},
     "y": {"field": "s", "type": "quantitative", "scale": {"domain": [0.478, 1.022], "nice": false, "zero": false}, "axis": {"values": [0.5,0.6,0.7,0.8,0.9,1.0], "format": ".2f", "title": null}},
     "color": {"field": "g", "type": "nominal", "scale": {"domain": ["Grade II","Grade III"], "range": ["#2c3a9f","#e8211c"]}, "legend": {"orient": "bottom-right", "offset": 4, "title": null, "symbolType": "M-1,0L5,0", "symbolSize": 196, "symbolStrokeWidth": 1.2, "labelOffset": 32, "labelFontSize": 11, "rowPadding": 0, "padding": 5, "strokeColor": "#000", "fillColor": "#fff"}}}}
  ]},
 {"spacing": 25,
  "resolve": {"scale": {"x": "independent", "y": "independent", "color": "independent", "fill": "independent", "stroke": "independent"}, "legend": {"color": "independent"}},
  "hconcat": [
   {"width": 12, "height": 1, "view": {"fill": null, "stroke": null}, "data": {"values": []}, "mark": "point", "encoding": {}},
   {"width": 146, "height": 189, "title": {"text": "g)\u00a0\u00a0 ER+PR+HER2-", "frame": "group"}, "data": {"name": "hz"}, "transform": [{"filter": "datum.p == 'g'"}],
    "encoding": {"x": {"field": "t", "type": "quantitative", "scale": {"domain": [-0.72, 15.8], "nice": false, "zero": false}, "axis": {"values": [0,5,10,15], "title": "Time-since-BC, yrs"}}},
    "layer": [
     {"transform": [{"filter": "isValid(datum.lo)"}], "mark": {"type": "area", "interpolate": "monotone", "fillOpacity": 0.45, "strokeOpacity": 0.5, "strokeWidth": 0.7},
      "encoding": {"y": {"field": "lo", "type": "quantitative", "scale": {"domain": [-4.2, 87.4], "nice": false, "zero": false}, "axis": {"values": [0,20,40,60,80], "title": "Hazard rate /1000pyr"}}, "y2": {"field": "hi"},
       "fill": {"field": "g", "type": "nominal", "scale": {"domain": ["Grade III","Grade II","Grade I"], "range": ["#f04040","#3f42c2","#707070"]}, "legend": null},
       "stroke": {"field": "g", "type": "nominal", "scale": {"domain": ["Grade II","Grade III","Grade I"], "range": ["#3f42c2","#f04040","#555555"]}, "legend": null}}},
     {"transform": [{"filter": "isValid(datum.h)"}], "mark": {"type": "line", "interpolate": "monotone", "strokeWidth": 1.2},
      "encoding": {"y": {"field": "h", "type": "quantitative", "scale": {"domain": [-4.2, 87.4], "nice": false, "zero": false}, "axis": {"values": [0,20,40,60,80], "title": "Hazard rate /1000pyr"}},
       "color": {"field": "g", "type": "nominal", "scale": {"domain": ["Grade I","Grade II","Grade III"], "range": ["#111111","#2c3a9f","#e8211c"]}, "legend": {"orient": "top-right", "offset": 4, "title": null, "symbolType": "M-1,0L5,0", "symbolSize": 196, "symbolStrokeWidth": 1.2, "labelOffset": 32, "labelFontSize": 11, "rowPadding": 0, "padding": 5, "strokeColor": "#000", "fillColor": "#fff"}}}}
    ]},
   {"width": 157, "height": 189, "title": {"text": "h)\u00a0\u00a0 ER+PR-HER2-"}, "data": {"name": "hz"}, "transform": [{"filter": "datum.p == 'h'"}],
    "encoding": {"x": {"field": "t", "type": "quantitative", "scale": {"domain": [-0.72, 15.8], "nice": false, "zero": false}, "axis": {"values": [0,5,10,15], "title": "Time-since-BC, yrs"}}},
    "layer": [
     {"transform": [{"filter": "isValid(datum.lo)"}], "mark": {"type": "area", "interpolate": "monotone", "fillOpacity": 0.45, "strokeOpacity": 0.5, "strokeWidth": 0.7},
      "encoding": {"y": {"field": "lo", "type": "quantitative", "scale": {"domain": [-4.2, 87.4], "nice": false, "zero": false}, "axis": {"values": [0,20,40,60,80], "title": null}}, "y2": {"field": "hi"},
       "fill": {"field": "g", "type": "nominal", "scale": {"domain": ["Grade III","Grade II","Grade I"], "range": ["#f04040","#3f42c2","#707070"]}, "legend": null},
       "stroke": {"field": "g", "type": "nominal", "scale": {"domain": ["Grade II","Grade III","Grade I"], "range": ["#3f42c2","#f04040","#555555"]}, "legend": null}}},
     {"transform": [{"filter": "isValid(datum.h)"}], "mark": {"type": "line", "interpolate": "monotone", "strokeWidth": 1.2},
      "encoding": {"y": {"field": "h", "type": "quantitative", "scale": {"domain": [-4.2, 87.4], "nice": false, "zero": false}, "axis": {"values": [0,20,40,60,80], "title": null}},
       "color": {"field": "g", "type": "nominal", "scale": {"domain": ["Grade I","Grade II","Grade III"], "range": ["#111111","#2c3a9f","#e8211c"]}, "legend": {"orient": "top-right", "offset": 4, "title": null, "symbolType": "M-1,0L5,0", "symbolSize": 196, "symbolStrokeWidth": 1.2, "labelOffset": 32, "labelFontSize": 11, "rowPadding": 0, "padding": 5, "strokeColor": "#000", "fillColor": "#fff"}}}}
    ]},
   {"width": 157, "height": 189, "title": {"text": "i)\u00a0\u00a0 ER+PR+HER2+"}, "data": {"name": "hz"}, "transform": [{"filter": "datum.p == 'i'"}],
    "encoding": {"x": {"field": "t", "type": "quantitative", "scale": {"domain": [-0.72, 15.8], "nice": false, "zero": false}, "axis": {"values": [0,5,10,15], "title": "Time-since-BC, yrs"}}},
    "layer": [
     {"transform": [{"filter": "isValid(datum.lo)"}], "mark": {"type": "area", "interpolate": "monotone", "fillOpacity": 0.45, "strokeOpacity": 0.5, "strokeWidth": 0.7},
      "encoding": {"y": {"field": "lo", "type": "quantitative", "scale": {"domain": [-4.2, 87.4], "nice": false, "zero": false}, "axis": {"values": [0,20,40,60,80], "title": null}}, "y2": {"field": "hi"},
       "fill": {"field": "g", "type": "nominal", "scale": {"domain": ["Grade III","Grade II"], "range": ["#f04040","#3f42c2"]}, "legend": null},
       "stroke": {"field": "g", "type": "nominal", "scale": {"domain": ["Grade II","Grade III","Grade I"], "range": ["#3f42c2","#f04040","#555555"]}, "legend": null}}},
     {"transform": [{"filter": "isValid(datum.u)"}], "mark": {"type": "line", "interpolate": "monotone", "strokeWidth": 0.8, "strokeOpacity": 0.6},
      "encoding": {"y": {"field": "u", "type": "quantitative", "scale": {"domain": [-4.2, 87.4], "nice": false, "zero": false}, "axis": {"values": [0,20,40,60,80], "title": null}},
       "stroke": {"field": "g", "type": "nominal", "scale": {"domain": ["Grade II","Grade III","Grade I"], "range": ["#3f42c2","#f04040","#555555"]}, "legend": null}}},
     {"transform": [{"filter": "isValid(datum.h)"}], "mark": {"type": "line", "interpolate": "monotone", "strokeWidth": 1.2},
      "encoding": {"y": {"field": "h", "type": "quantitative", "scale": {"domain": [-4.2, 87.4], "nice": false, "zero": false}, "axis": {"values": [0,20,40,60,80], "title": null}},
       "color": {"field": "g", "type": "nominal", "scale": {"domain": ["Grade II","Grade III"], "range": ["#2c3a9f","#e8211c"]}, "legend": {"orient": "top-right", "offset": 4, "title": null, "symbolType": "M-1,0L5,0", "symbolSize": 196, "symbolStrokeWidth": 1.2, "labelOffset": 32, "labelFontSize": 11, "rowPadding": 0, "padding": 5, "strokeColor": "#000", "fillColor": "#fff"}}}}
    ]},
   {"width": 157, "height": 189, "title": {"text": "j)\u00a0\u00a0 ER+PR-HER2+"}, "data": {"name": "hz"}, "transform": [{"filter": "datum.p == 'j'"}],
    "encoding": {"x": {"field": "t", "type": "quantitative", "scale": {"domain": [-0.72, 15.8], "nice": false, "zero": false}, "axis": {"values": [0,5,10,15], "title": "Time-since-BC, yrs"}}},
    "layer": [
     {"transform": [{"filter": "isValid(datum.lo)"}], "mark": {"type": "area", "interpolate": "monotone", "fillOpacity": 0.45, "strokeOpacity": 0.5, "strokeWidth": 0.7},
      "encoding": {"y": {"field": "lo", "type": "quantitative", "scale": {"domain": [-4.2, 87.4], "nice": false, "zero": false}, "axis": {"values": [0,20,40,60,80], "title": null}}, "y2": {"field": "hi"},
       "fill": {"field": "g", "type": "nominal", "scale": {"domain": ["Grade III","Grade II"], "range": ["#f04040","#3f42c2"]}, "legend": null},
       "stroke": {"field": "g", "type": "nominal", "scale": {"domain": ["Grade II","Grade III","Grade I"], "range": ["#3f42c2","#f04040","#555555"]}, "legend": null}}},
     {"transform": [{"filter": "isValid(datum.h)"}], "mark": {"type": "line", "interpolate": "monotone", "strokeWidth": 1.2},
      "encoding": {"y": {"field": "h", "type": "quantitative", "scale": {"domain": [-4.2, 87.4], "nice": false, "zero": false}, "axis": {"values": [0,20,40,60,80], "title": null}},
       "color": {"field": "g", "type": "nominal", "scale": {"domain": ["Grade II","Grade III"], "range": ["#2c3a9f","#e8211c"]}, "legend": {"orient": "top-right", "offset": 4, "title": null, "symbolType": "M-1,0L5,0", "symbolSize": 196, "symbolStrokeWidth": 1.2, "labelOffset": 32, "labelFontSize": 11, "rowPadding": 0, "padding": 5, "strokeColor": "#000", "fillColor": "#fff"}}}}
    ]},
   {"width": 157, "height": 189, "title": {"text": "k)\u00a0\u00a0 HER2pos"}, "data": {"name": "hz"}, "transform": [{"filter": "datum.p == 'k'"}],
    "encoding": {"x": {"field": "t", "type": "quantitative", "scale": {"domain": [-0.72, 15.8], "nice": false, "zero": false}, "axis": {"values": [0,5,10,15], "title": "Time-since-BC, yrs"}}},
    "layer": [
     {"transform": [{"filter": "isValid(datum.lo)"}], "mark": {"type": "area", "interpolate": "monotone", "fillOpacity": 0.45, "strokeOpacity": 0.5, "strokeWidth": 0.7},
      "encoding": {"y": {"field": "lo", "type": "quantitative", "scale": {"domain": [-4.2, 87.4], "nice": false, "zero": false}, "axis": {"values": [0,20,40,60,80], "title": null}}, "y2": {"field": "hi"},
       "fill": {"field": "g", "type": "nominal", "scale": {"domain": ["Grade III","Grade II"], "range": ["#f04040","#3f42c2"]}, "legend": null},
       "stroke": {"field": "g", "type": "nominal", "scale": {"domain": ["Grade II","Grade III","Grade I"], "range": ["#3f42c2","#f04040","#555555"]}, "legend": null}}},
     {"transform": [{"filter": "isValid(datum.h)"}], "mark": {"type": "line", "interpolate": "monotone", "strokeWidth": 1.2},
      "encoding": {"y": {"field": "h", "type": "quantitative", "scale": {"domain": [-4.2, 87.4], "nice": false, "zero": false}, "axis": {"values": [0,20,40,60,80], "title": null}},
       "color": {"field": "g", "type": "nominal", "scale": {"domain": ["Grade II","Grade III"], "range": ["#2c3a9f","#e8211c"]}, "legend": {"orient": "top-right", "offset": 4, "title": null, "symbolType": "M-1,0L5,0", "symbolSize": 196, "symbolStrokeWidth": 1.2, "labelOffset": 32, "labelFontSize": 11, "rowPadding": 0, "padding": 5, "strokeColor": "#000", "fillColor": "#fff"}}}}
    ]},
   {"width": 157, "height": 189, "title": {"text": "l)\u00a0\u00a0 TNBC"}, "data": {"name": "hz"}, "transform": [{"filter": "datum.p == 'l'"}],
    "encoding": {"x": {"field": "t", "type": "quantitative", "scale": {"domain": [-0.72, 15.8], "nice": false, "zero": false}, "axis": {"values": [0,5,10,15], "title": "Time-since-BC, yrs"}}},
    "layer": [
     {"transform": [{"filter": "isValid(datum.lo)"}], "mark": {"type": "area", "interpolate": "monotone", "fillOpacity": 0.45, "strokeOpacity": 0.5, "strokeWidth": 0.7},
      "encoding": {"y": {"field": "lo", "type": "quantitative", "scale": {"domain": [-4.2, 87.4], "nice": false, "zero": false}, "axis": {"values": [0,20,40,60,80], "title": null}}, "y2": {"field": "hi"},
       "fill": {"field": "g", "type": "nominal", "scale": {"domain": ["Grade III","Grade II"], "range": ["#f04040","#3f42c2"]}, "legend": null},
       "stroke": {"field": "g", "type": "nominal", "scale": {"domain": ["Grade II","Grade III","Grade I"], "range": ["#3f42c2","#f04040","#555555"]}, "legend": null}}},
     {"transform": [{"filter": "isValid(datum.h)"}], "mark": {"type": "line", "interpolate": "monotone", "strokeWidth": 1.2},
      "encoding": {"y": {"field": "h", "type": "quantitative", "scale": {"domain": [-4.2, 87.4], "nice": false, "zero": false}, "axis": {"values": [0,20,40,60,80], "title": null}},
       "color": {"field": "g", "type": "nominal", "scale": {"domain": ["Grade II","Grade III"], "range": ["#2c3a9f","#e8211c"]}, "legend": {"orient": "top-right", "offset": 4, "title": null, "symbolType": "M-1,0L5,0", "symbolSize": 196, "symbolStrokeWidth": 1.2, "labelOffset": 32, "labelFontSize": 11, "rowPadding": 0, "padding": 5, "strokeColor": "#000", "fillColor": "#fff"}}}}
    ]}
  ]},
 {"spacing": 25,
  "resolve": {"scale": {"x": "independent", "y": "independent", "color": "independent", "fill": "independent", "stroke": "independent", "xOffset": "independent"}, "legend": {"color": "independent"}},
  "hconcat": [
   {"width": 12, "height": 1, "view": {"fill": null, "stroke": null}, "data": {"values": []}, "mark": "point", "encoding": {}},
   {"width": 146, "height": 203, "title": {"text": "m)\u00a0\u00a0 ER+PR+HER2-", "frame": "group"}, "data": {"name": "hr"}, "transform": [{"filter": "datum.p == 'm'"}],
    "encoding": {"x": {"field": "per", "type": "nominal", "scale": {"domain": ["0-5 yrs","5-13 yrs"], "paddingInner": 0, "paddingOuter": 0}, "axis": {"title": null, "ticks": false, "labelPadding": 4, "labelFontSize": 12, "bandPosition": 0.55}}},
    "layer": [
     {"data": {"values": [{"k": 1}]}, "mark": {"type": "rule", "color": "#a8a8a8", "strokeWidth": 1.5}, "encoding": {"x": {"datum": "5-13 yrs", "bandPosition": 0}}},
     {"data": {"values": [{"k": 1}]}, "mark": {"type": "rule", "color": "#222222", "strokeWidth": 1}, "encoding": {"x": {"datum": "0-5 yrs", "bandPosition": 0.09}, "x2": {"datum": "5-13 yrs", "bandPosition": 0.91}, "y": {"datum": 1, "type": "quantitative", "scale": {"domain": [-0.58, 15.53], "nice": false, "zero": false}, "axis": {"values": [0,2,4,6,8,10,12,14], "title": "Hazard Ratio"}}}},
     {"transform": [{"filter": "isValid(datum.lo)"}], "mark": {"type": "rule", "strokeWidth": 1.3, "opacity": 0.85}, "encoding": {"xOffset": {"field": "g", "type": "nominal", "scale": {"type": "point", "domain": ["Grade I","Grade II","Grade III"], "padding": 0.64, "align": 0.615}}, "y": {"field": "lo", "type": "quantitative", "scale": {"domain": [-0.58, 15.53], "nice": false, "zero": false}, "axis": {"values": [0,2,4,6,8,10,12,14], "title": "Hazard Ratio"}}, "y2": {"field": "hi"}, "stroke": {"field": "g", "type": "nominal", "scale": {"domain": ["Grade III","Grade II","Grade I"], "range": ["#e8211c","#2c3a9f","#111111"]}, "legend": null}}},
     {"transform": [{"filter": "isValid(datum.lo)"}], "mark": {"type": "tick", "thickness": 1.3, "size": 6, "opacity": 0.85}, "encoding": {"xOffset": {"field": "g", "type": "nominal", "scale": {"type": "point", "domain": ["Grade I","Grade II","Grade III"], "padding": 0.64, "align": 0.615}}, "y": {"field": "lo", "type": "quantitative", "scale": {"domain": [-0.58, 15.53], "nice": false, "zero": false}, "axis": {"values": [0,2,4,6,8,10,12,14], "title": "Hazard Ratio"}}, "fill": {"field": "g", "type": "nominal", "scale": {"domain": ["Grade II","Grade III","Grade I"], "range": ["#2c3a9f","#e8211c","#111111"]}, "legend": null}}},
     {"transform": [{"filter": "isValid(datum.hi)"}], "mark": {"type": "tick", "thickness": 1.3, "size": 6, "opacity": 0.85}, "encoding": {"xOffset": {"field": "g", "type": "nominal", "scale": {"type": "point", "domain": ["Grade I","Grade II","Grade III"], "padding": 0.64, "align": 0.615}}, "y": {"field": "hi", "type": "quantitative", "scale": {"domain": [-0.58, 15.53], "nice": false, "zero": false}, "axis": {"values": [0,2,4,6,8,10,12,14], "title": "Hazard Ratio"}}, "fill": {"field": "g", "type": "nominal", "scale": {"domain": ["Grade II","Grade III","Grade I"], "range": ["#2c3a9f","#e8211c","#111111"]}, "legend": null}}},
     {"mark": {"type": "point", "filled": true, "size": 45, "opacity": 1}, "encoding": {"xOffset": {"field": "g", "type": "nominal", "scale": {"type": "point", "domain": ["Grade I","Grade II","Grade III"], "padding": 0.64, "align": 0.615}}, "y": {"field": "est", "type": "quantitative", "scale": {"domain": [-0.58, 15.53], "nice": false, "zero": false}, "axis": {"values": [0,2,4,6,8,10,12,14], "title": "Hazard Ratio"}}, "color": {"field": "g", "type": "nominal", "scale": {"domain": ["Grade I","Grade II","Grade III"], "range": ["#111111","#2c3a9f","#e8211c"]}, "legend": {"orient": "top-right", "offset": 4, "title": null, "symbolType": "circle", "symbolSize": 30, "labelFontSize": 9, "rowPadding": 2.5, "padding": 4, "labelOffset": 3, "strokeColor": "#000", "fillColor": "#fff"}}}}
    ]},
   {"width": 157, "height": 203, "title": {"text": "n)\u00a0\u00a0 ER+PR-HER2-"}, "data": {"name": "hr"}, "transform": [{"filter": "datum.p == 'n'"}],
    "encoding": {"x": {"field": "per", "type": "nominal", "scale": {"domain": ["0-5 yrs","5-13 yrs"], "paddingInner": 0, "paddingOuter": 0}, "axis": {"title": null, "ticks": false, "labelPadding": 4, "labelFontSize": 12, "bandPosition": 0.55}}},
    "layer": [
     {"data": {"values": [{"k": 1}]}, "mark": {"type": "rule", "color": "#a8a8a8", "strokeWidth": 1.5}, "encoding": {"x": {"datum": "5-13 yrs", "bandPosition": 0}}},
     {"data": {"values": [{"k": 1}]}, "mark": {"type": "rule", "color": "#222222", "strokeWidth": 1}, "encoding": {"x": {"datum": "0-5 yrs", "bandPosition": 0.09}, "x2": {"datum": "5-13 yrs", "bandPosition": 0.91}, "y": {"datum": 1, "type": "quantitative", "scale": {"domain": [-0.58, 15.53], "nice": false, "zero": false}, "axis": {"values": [0,2,4,6,8,10,12,14], "title": null}}}},
     {"transform": [{"filter": "isValid(datum.lo)"}], "mark": {"type": "rule", "strokeWidth": 1.3, "opacity": 0.85}, "encoding": {"xOffset": {"field": "g", "type": "nominal", "scale": {"type": "point", "domain": ["Grade I","Grade II","Grade III"], "padding": 0.64, "align": 0.615}}, "y": {"field": "lo", "type": "quantitative", "scale": {"domain": [-0.58, 15.53], "nice": false, "zero": false}, "axis": {"values": [0,2,4,6,8,10,12,14], "title": null}}, "y2": {"field": "hi"}, "stroke": {"field": "g", "type": "nominal", "scale": {"domain": ["Grade III","Grade II","Grade I"], "range": ["#e8211c","#2c3a9f","#111111"]}, "legend": null}}},
     {"transform": [{"filter": "isValid(datum.lo)"}], "mark": {"type": "tick", "thickness": 1.3, "size": 6, "opacity": 0.85}, "encoding": {"xOffset": {"field": "g", "type": "nominal", "scale": {"type": "point", "domain": ["Grade I","Grade II","Grade III"], "padding": 0.64, "align": 0.615}}, "y": {"field": "lo", "type": "quantitative", "scale": {"domain": [-0.58, 15.53], "nice": false, "zero": false}, "axis": {"values": [0,2,4,6,8,10,12,14], "title": null}}, "fill": {"field": "g", "type": "nominal", "scale": {"domain": ["Grade II","Grade III","Grade I"], "range": ["#2c3a9f","#e8211c","#111111"]}, "legend": null}}},
     {"transform": [{"filter": "isValid(datum.hi)"}], "mark": {"type": "tick", "thickness": 1.3, "size": 6, "opacity": 0.85}, "encoding": {"xOffset": {"field": "g", "type": "nominal", "scale": {"type": "point", "domain": ["Grade I","Grade II","Grade III"], "padding": 0.64, "align": 0.615}}, "y": {"field": "hi", "type": "quantitative", "scale": {"domain": [-0.58, 15.53], "nice": false, "zero": false}, "axis": {"values": [0,2,4,6,8,10,12,14], "title": null}}, "fill": {"field": "g", "type": "nominal", "scale": {"domain": ["Grade II","Grade III","Grade I"], "range": ["#2c3a9f","#e8211c","#111111"]}, "legend": null}}},
     {"mark": {"type": "point", "filled": true, "size": 45, "opacity": 1}, "encoding": {"xOffset": {"field": "g", "type": "nominal", "scale": {"type": "point", "domain": ["Grade I","Grade II","Grade III"], "padding": 0.64, "align": 0.615}}, "y": {"field": "est", "type": "quantitative", "scale": {"domain": [-0.58, 15.53], "nice": false, "zero": false}, "axis": {"values": [0,2,4,6,8,10,12,14], "title": null}}, "color": {"field": "g", "type": "nominal", "scale": {"domain": ["Grade I","Grade II","Grade III"], "range": ["#111111","#2c3a9f","#e8211c"]}, "legend": {"orient": "top-right", "offset": 4, "title": null, "symbolType": "circle", "symbolSize": 30, "labelFontSize": 9, "rowPadding": 2.5, "padding": 4, "labelOffset": 3, "strokeColor": "#000", "fillColor": "#fff"}}}}
    ]},
   {"width": 157, "height": 203, "title": {"text": "o)\u00a0\u00a0 ER+PR+HER2+"}, "data": {"name": "hr"}, "transform": [{"filter": "datum.p == 'o'"}],
    "encoding": {"x": {"field": "per", "type": "nominal", "scale": {"domain": ["0-5 yrs","5-13 yrs"], "paddingInner": 0, "paddingOuter": 0}, "axis": {"title": null, "ticks": false, "labelPadding": 4, "labelFontSize": 12, "bandPosition": 0.55}}},
    "layer": [
     {"data": {"values": [{"k": 1}]}, "mark": {"type": "rule", "color": "#a8a8a8", "strokeWidth": 1.5}, "encoding": {"x": {"datum": "5-13 yrs", "bandPosition": 0}}},
     {"data": {"values": [{"k": 1}]}, "mark": {"type": "rule", "color": "#222222", "strokeWidth": 1}, "encoding": {"x": {"datum": "0-5 yrs", "bandPosition": 0.09}, "x2": {"datum": "5-13 yrs", "bandPosition": 0.91}, "y": {"datum": 1, "type": "quantitative", "scale": {"domain": [-0.58, 15.53], "nice": false, "zero": false}, "axis": {"values": [0,2,4,6,8,10,12,14], "title": null}}}},
     {"transform": [{"filter": "isValid(datum.lo)"}], "mark": {"type": "rule", "strokeWidth": 1.3, "opacity": 0.85}, "encoding": {"xOffset": {"field": "g", "type": "nominal", "scale": {"type": "point", "domain": ["Grade I","Grade II","Grade III"], "padding": 0.64, "align": 0.615}}, "y": {"field": "lo", "type": "quantitative", "scale": {"domain": [-0.58, 15.53], "nice": false, "zero": false}, "axis": {"values": [0,2,4,6,8,10,12,14], "title": null}}, "y2": {"field": "hi"}, "stroke": {"field": "g", "type": "nominal", "scale": {"domain": ["Grade III","Grade II"], "range": ["#e8211c","#2c3a9f"]}, "legend": null}}},
     {"transform": [{"filter": "isValid(datum.lo)"}], "mark": {"type": "tick", "thickness": 1.3, "size": 6, "opacity": 0.85}, "encoding": {"xOffset": {"field": "g", "type": "nominal", "scale": {"type": "point", "domain": ["Grade I","Grade II","Grade III"], "padding": 0.64, "align": 0.615}}, "y": {"field": "lo", "type": "quantitative", "scale": {"domain": [-0.58, 15.53], "nice": false, "zero": false}, "axis": {"values": [0,2,4,6,8,10,12,14], "title": null}}, "fill": {"field": "g", "type": "nominal", "scale": {"domain": ["Grade II","Grade III","Grade I"], "range": ["#2c3a9f","#e8211c","#111111"]}, "legend": null}}},
     {"transform": [{"filter": "isValid(datum.hi)"}], "mark": {"type": "tick", "thickness": 1.3, "size": 6, "opacity": 0.85}, "encoding": {"xOffset": {"field": "g", "type": "nominal", "scale": {"type": "point", "domain": ["Grade I","Grade II","Grade III"], "padding": 0.64, "align": 0.615}}, "y": {"field": "hi", "type": "quantitative", "scale": {"domain": [-0.58, 15.53], "nice": false, "zero": false}, "axis": {"values": [0,2,4,6,8,10,12,14], "title": null}}, "fill": {"field": "g", "type": "nominal", "scale": {"domain": ["Grade II","Grade III","Grade I"], "range": ["#2c3a9f","#e8211c","#111111"]}, "legend": null}}},
     {"mark": {"type": "point", "filled": true, "size": 45, "opacity": 1}, "encoding": {"xOffset": {"field": "g", "type": "nominal", "scale": {"type": "point", "domain": ["Grade I","Grade II","Grade III"], "padding": 0.64, "align": 0.615}}, "y": {"field": "est", "type": "quantitative", "scale": {"domain": [-0.58, 15.53], "nice": false, "zero": false}, "axis": {"values": [0,2,4,6,8,10,12,14], "title": null}}, "color": {"field": "g", "type": "nominal", "scale": {"domain": ["Grade II","Grade III"], "range": ["#2c3a9f","#e8211c"]}, "legend": {"orient": "top-right", "offset": 4, "title": null, "symbolType": "circle", "symbolSize": 30, "labelFontSize": 9, "rowPadding": 2.5, "padding": 4, "labelOffset": 3, "strokeColor": "#000", "fillColor": "#fff"}}}}
    ]},
   {"width": 157, "height": 203, "title": {"text": "p)\u00a0\u00a0 ER+PR-HER2+"}, "data": {"name": "hr"}, "transform": [{"filter": "datum.p == 'p'"}],
    "encoding": {"x": {"field": "per", "type": "nominal", "scale": {"domain": ["0-5 yrs","5-13 yrs"], "paddingInner": 0, "paddingOuter": 0}, "axis": {"title": null, "ticks": false, "labelPadding": 4, "labelFontSize": 12, "bandPosition": 0.55}}},
    "layer": [
     {"data": {"values": [{"k": 1}]}, "mark": {"type": "rule", "color": "#a8a8a8", "strokeWidth": 1.5}, "encoding": {"x": {"datum": "5-13 yrs", "bandPosition": 0}}},
     {"data": {"values": [{"k": 1}]}, "mark": {"type": "rule", "color": "#222222", "strokeWidth": 1}, "encoding": {"x": {"datum": "0-5 yrs", "bandPosition": 0.09}, "x2": {"datum": "5-13 yrs", "bandPosition": 0.91}, "y": {"datum": 1, "type": "quantitative", "scale": {"domain": [-0.58, 15.53], "nice": false, "zero": false}, "axis": {"values": [0,2,4,6,8,10,12,14], "title": null}}}},
     {"transform": [{"filter": "isValid(datum.lo)"}], "mark": {"type": "rule", "strokeWidth": 1.3, "opacity": 0.85}, "encoding": {"xOffset": {"field": "g", "type": "nominal", "scale": {"type": "point", "domain": ["Grade I","Grade II","Grade III"], "padding": 0.64, "align": 0.615}}, "y": {"field": "lo", "type": "quantitative", "scale": {"domain": [-0.58, 15.53], "nice": false, "zero": false}, "axis": {"values": [0,2,4,6,8,10,12,14], "title": null}}, "y2": {"field": "hi"}, "stroke": {"field": "g", "type": "nominal", "scale": {"domain": ["Grade III","Grade II"], "range": ["#e8211c","#2c3a9f"]}, "legend": null}}},
     {"transform": [{"filter": "isValid(datum.lo)"}], "mark": {"type": "tick", "thickness": 1.3, "size": 6, "opacity": 0.85}, "encoding": {"xOffset": {"field": "g", "type": "nominal", "scale": {"type": "point", "domain": ["Grade I","Grade II","Grade III"], "padding": 0.64, "align": 0.615}}, "y": {"field": "lo", "type": "quantitative", "scale": {"domain": [-0.58, 15.53], "nice": false, "zero": false}, "axis": {"values": [0,2,4,6,8,10,12,14], "title": null}}, "fill": {"field": "g", "type": "nominal", "scale": {"domain": ["Grade II","Grade III","Grade I"], "range": ["#2c3a9f","#e8211c","#111111"]}, "legend": null}}},
     {"transform": [{"filter": "isValid(datum.hi)"}], "mark": {"type": "tick", "thickness": 1.3, "size": 6, "opacity": 0.85}, "encoding": {"xOffset": {"field": "g", "type": "nominal", "scale": {"type": "point", "domain": ["Grade I","Grade II","Grade III"], "padding": 0.64, "align": 0.615}}, "y": {"field": "hi", "type": "quantitative", "scale": {"domain": [-0.58, 15.53], "nice": false, "zero": false}, "axis": {"values": [0,2,4,6,8,10,12,14], "title": null}}, "fill": {"field": "g", "type": "nominal", "scale": {"domain": ["Grade II","Grade III","Grade I"], "range": ["#2c3a9f","#e8211c","#111111"]}, "legend": null}}},
     {"mark": {"type": "point", "filled": true, "size": 45, "opacity": 1}, "encoding": {"xOffset": {"field": "g", "type": "nominal", "scale": {"type": "point", "domain": ["Grade I","Grade II","Grade III"], "padding": 0.64, "align": 0.615}}, "y": {"field": "est", "type": "quantitative", "scale": {"domain": [-0.58, 15.53], "nice": false, "zero": false}, "axis": {"values": [0,2,4,6,8,10,12,14], "title": null}}, "color": {"field": "g", "type": "nominal", "scale": {"domain": ["Grade II","Grade III"], "range": ["#2c3a9f","#e8211c"]}, "legend": {"orient": "top-right", "offset": 4, "title": null, "symbolType": "circle", "symbolSize": 30, "labelFontSize": 9, "rowPadding": 2.5, "padding": 4, "labelOffset": 3, "strokeColor": "#000", "fillColor": "#fff"}}}}
    ]},
   {"width": 157, "height": 203, "title": {"text": "q)\u00a0\u00a0 HER2pos"}, "data": {"name": "hr"}, "transform": [{"filter": "datum.p == 'q'"}],
    "encoding": {"x": {"field": "per", "type": "nominal", "scale": {"domain": ["0-5 yrs","5-13 yrs"], "paddingInner": 0, "paddingOuter": 0}, "axis": {"title": null, "ticks": false, "labelPadding": 4, "labelFontSize": 12, "bandPosition": 0.55}}},
    "layer": [
     {"data": {"values": [{"k": 1}]}, "mark": {"type": "rule", "color": "#a8a8a8", "strokeWidth": 1.5}, "encoding": {"x": {"datum": "5-13 yrs", "bandPosition": 0}}},
     {"data": {"values": [{"k": 1}]}, "mark": {"type": "rule", "color": "#222222", "strokeWidth": 1}, "encoding": {"x": {"datum": "0-5 yrs", "bandPosition": 0.09}, "x2": {"datum": "5-13 yrs", "bandPosition": 0.91}, "y": {"datum": 1, "type": "quantitative", "scale": {"domain": [-0.58, 15.53], "nice": false, "zero": false}, "axis": {"values": [0,2,4,6,8,10,12,14], "title": null}}}},
     {"transform": [{"filter": "isValid(datum.lo)"}], "mark": {"type": "rule", "strokeWidth": 1.3, "opacity": 0.85}, "encoding": {"xOffset": {"field": "g", "type": "nominal", "scale": {"type": "point", "domain": ["Grade I","Grade II","Grade III"], "padding": 0.64, "align": 0.615}}, "y": {"field": "lo", "type": "quantitative", "scale": {"domain": [-0.58, 15.53], "nice": false, "zero": false}, "axis": {"values": [0,2,4,6,8,10,12,14], "title": null}}, "y2": {"field": "hi"}, "stroke": {"field": "g", "type": "nominal", "scale": {"domain": ["Grade III","Grade II"], "range": ["#e8211c","#2c3a9f"]}, "legend": null}}},
     {"transform": [{"filter": "isValid(datum.lo)"}], "mark": {"type": "tick", "thickness": 1.3, "size": 6, "opacity": 0.85}, "encoding": {"xOffset": {"field": "g", "type": "nominal", "scale": {"type": "point", "domain": ["Grade I","Grade II","Grade III"], "padding": 0.64, "align": 0.615}}, "y": {"field": "lo", "type": "quantitative", "scale": {"domain": [-0.58, 15.53], "nice": false, "zero": false}, "axis": {"values": [0,2,4,6,8,10,12,14], "title": null}}, "fill": {"field": "g", "type": "nominal", "scale": {"domain": ["Grade II","Grade III","Grade I"], "range": ["#2c3a9f","#e8211c","#111111"]}, "legend": null}}},
     {"transform": [{"filter": "isValid(datum.hi)"}], "mark": {"type": "tick", "thickness": 1.3, "size": 6, "opacity": 0.85}, "encoding": {"xOffset": {"field": "g", "type": "nominal", "scale": {"type": "point", "domain": ["Grade I","Grade II","Grade III"], "padding": 0.64, "align": 0.615}}, "y": {"field": "hi", "type": "quantitative", "scale": {"domain": [-0.58, 15.53], "nice": false, "zero": false}, "axis": {"values": [0,2,4,6,8,10,12,14], "title": null}}, "fill": {"field": "g", "type": "nominal", "scale": {"domain": ["Grade II","Grade III","Grade I"], "range": ["#2c3a9f","#e8211c","#111111"]}, "legend": null}}},
     {"mark": {"type": "point", "filled": true, "size": 45, "opacity": 1}, "encoding": {"xOffset": {"field": "g", "type": "nominal", "scale": {"type": "point", "domain": ["Grade I","Grade II","Grade III"], "padding": 0.64, "align": 0.615}}, "y": {"field": "est", "type": "quantitative", "scale": {"domain": [-0.58, 15.53], "nice": false, "zero": false}, "axis": {"values": [0,2,4,6,8,10,12,14], "title": null}}, "color": {"field": "g", "type": "nominal", "scale": {"domain": ["Grade II","Grade III"], "range": ["#2c3a9f","#e8211c"]}, "legend": {"orient": "top-right", "offset": 4, "title": null, "symbolType": "circle", "symbolSize": 30, "labelFontSize": 9, "rowPadding": 2.5, "padding": 4, "labelOffset": 3, "strokeColor": "#000", "fillColor": "#fff"}}}}
    ]},
   {"width": 157, "height": 203, "title": {"text": "r)\u00a0\u00a0 TNBC"}, "data": {"name": "hr"}, "transform": [{"filter": "datum.p == 'r'"}],
    "encoding": {"x": {"field": "per", "type": "nominal", "scale": {"domain": ["0-5 yrs","5-13 yrs"], "paddingInner": 0, "paddingOuter": 0}, "axis": {"title": null, "ticks": false, "labelPadding": 4, "labelFontSize": 12, "bandPosition": 0.55}}},
    "layer": [
     {"data": {"values": [{"k": 1}]}, "mark": {"type": "rule", "color": "#a8a8a8", "strokeWidth": 1.5}, "encoding": {"x": {"datum": "5-13 yrs", "bandPosition": 0}}},
     {"data": {"values": [{"k": 1}]}, "mark": {"type": "rule", "color": "#222222", "strokeWidth": 1}, "encoding": {"x": {"datum": "0-5 yrs", "bandPosition": 0.09}, "x2": {"datum": "5-13 yrs", "bandPosition": 0.91}, "y": {"datum": 1, "type": "quantitative", "scale": {"domain": [-0.58, 15.53], "nice": false, "zero": false}, "axis": {"values": [0,2,4,6,8,10,12,14], "title": null}}}},
     {"transform": [{"filter": "isValid(datum.lo)"}], "mark": {"type": "rule", "strokeWidth": 1.3, "opacity": 0.85}, "encoding": {"xOffset": {"field": "g", "type": "nominal", "scale": {"type": "point", "domain": ["Grade I","Grade II","Grade III"], "padding": 0.64, "align": 0.615}}, "y": {"field": "lo", "type": "quantitative", "scale": {"domain": [-0.58, 15.53], "nice": false, "zero": false}, "axis": {"values": [0,2,4,6,8,10,12,14], "title": null}}, "y2": {"field": "hi"}, "stroke": {"field": "g", "type": "nominal", "scale": {"domain": ["Grade III","Grade II"], "range": ["#e8211c","#2c3a9f"]}, "legend": null}}},
     {"transform": [{"filter": "isValid(datum.lo)"}], "mark": {"type": "tick", "thickness": 1.3, "size": 6, "opacity": 0.85}, "encoding": {"xOffset": {"field": "g", "type": "nominal", "scale": {"type": "point", "domain": ["Grade I","Grade II","Grade III"], "padding": 0.64, "align": 0.615}}, "y": {"field": "lo", "type": "quantitative", "scale": {"domain": [-0.58, 15.53], "nice": false, "zero": false}, "axis": {"values": [0,2,4,6,8,10,12,14], "title": null}}, "fill": {"field": "g", "type": "nominal", "scale": {"domain": ["Grade II","Grade III","Grade I"], "range": ["#2c3a9f","#e8211c","#111111"]}, "legend": null}}},
     {"transform": [{"filter": "isValid(datum.hi)"}], "mark": {"type": "tick", "thickness": 1.3, "size": 6, "opacity": 0.85}, "encoding": {"xOffset": {"field": "g", "type": "nominal", "scale": {"type": "point", "domain": ["Grade I","Grade II","Grade III"], "padding": 0.64, "align": 0.615}}, "y": {"field": "hi", "type": "quantitative", "scale": {"domain": [-0.58, 15.53], "nice": false, "zero": false}, "axis": {"values": [0,2,4,6,8,10,12,14], "title": null}}, "fill": {"field": "g", "type": "nominal", "scale": {"domain": ["Grade II","Grade III","Grade I"], "range": ["#2c3a9f","#e8211c","#111111"]}, "legend": null}}},
     {"mark": {"type": "point", "filled": true, "size": 45, "opacity": 1}, "encoding": {"xOffset": {"field": "g", "type": "nominal", "scale": {"type": "point", "domain": ["Grade I","Grade II","Grade III"], "padding": 0.64, "align": 0.615}}, "y": {"field": "est", "type": "quantitative", "scale": {"domain": [-0.58, 15.53], "nice": false, "zero": false}, "axis": {"values": [0,2,4,6,8,10,12,14], "title": null}}, "color": {"field": "g", "type": "nominal", "scale": {"domain": ["Grade II","Grade III"], "range": ["#2c3a9f","#e8211c"]}, "legend": {"orient": "top-right", "offset": 4, "title": null, "symbolType": "circle", "symbolSize": 30, "labelFontSize": 9, "rowPadding": 2.5, "padding": 4, "labelOffset": 3, "strokeColor": "#000", "fillColor": "#fff"}}}}
    ]}
  ]}
 ]},
{"width": 10, "height": 28, "view": {"fill": null, "stroke": null}, "data": {"values": []}, "mark": "point", "encoding": {}}
]
}
